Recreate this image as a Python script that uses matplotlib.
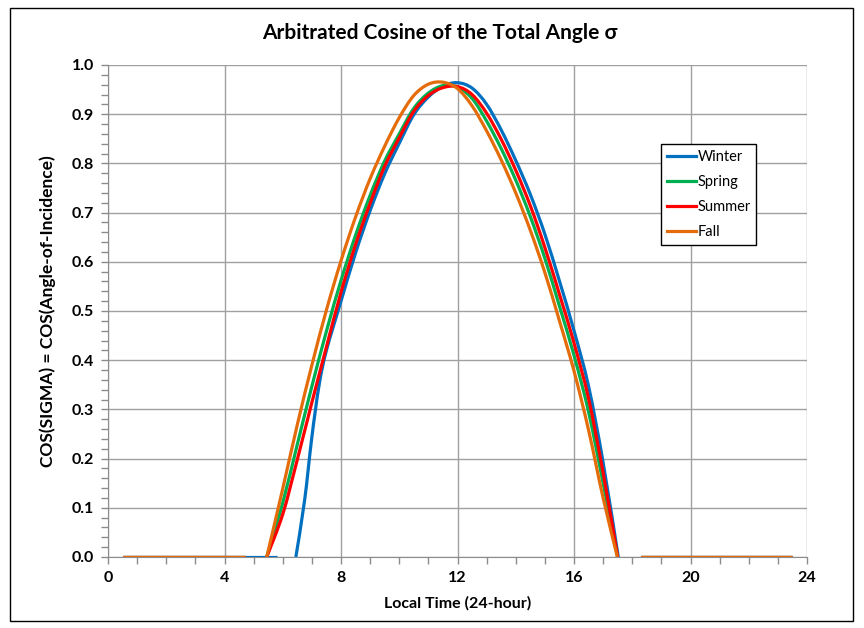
import numpy as np
import matplotlib
matplotlib.use("Agg")
import matplotlib.pyplot as plt
from matplotlib.path import Path
from matplotlib.patches import PathPatch, Rectangle
from matplotlib.lines import Line2D
from matplotlib.ticker import MultipleLocator

plt.rcParams['font.family'] = ['Lato', 'DejaVu Sans']

# values (local hour, cos sigma) for the daylight part
winter_hours = [6.45, 6.75, 7.0, 7.25, 7.5, 8.0, 8.5, 9.0, 9.5, 10.0, 10.5, 11.0, 11.5, 12.0,
                12.5, 13.0, 13.5, 14.0, 14.5, 15.0, 15.5, 16.0, 16.5, 17.0, 17.52]
winter_vals = [0.0, 0.115, 0.244, 0.35, 0.42, 0.52, 0.618, 0.704, 0.779, 0.841, 0.899, 0.935, 0.957, 0.964,
               0.953, 0.92, 0.868, 0.806, 0.737, 0.656, 0.561, 0.46, 0.347, 0.192, 0.0]

spring_hours = [5.45, 6.0, 6.5, 7.0, 7.5, 8.0, 8.5, 9.0, 9.5, 10.0, 10.5, 11.0, 11.5, 12.0,
                12.5, 13.0, 13.5, 14.0, 14.5, 15.0, 15.5, 16.0, 16.5, 17.0, 17.5]
spring_vals = [0.0, 0.11, 0.229, 0.347, 0.459, 0.562, 0.654, 0.735, 0.805, 0.86, 0.912, 0.943, 0.958, 0.955,
               0.932, 0.886, 0.83, 0.766, 0.692, 0.607, 0.51, 0.41, 0.295, 0.15, 0.0]

summer_hours = [5.45, 6.0, 6.5, 7.0, 7.5, 8.0, 8.5, 9.0, 9.5, 10.0, 10.5, 11.0, 11.5, 12.0,
                12.5, 13.0, 13.5, 14.0, 14.5, 15.0, 15.5, 16.0, 16.5, 17.0, 17.5]
summer_vals = [0.0, 0.087, 0.198, 0.314, 0.427, 0.538, 0.635, 0.719, 0.794, 0.852, 0.906, 0.938, 0.954, 0.956,
               0.94, 0.902, 0.849, 0.786, 0.714, 0.629, 0.534, 0.435, 0.322, 0.171, 0.0]

fall_hours = [5.45, 6.0, 6.5, 7.0, 7.5, 8.0, 8.5, 9.0, 9.5, 10.0, 10.5, 11.0, 11.5, 12.0,
              12.5, 13.0, 13.5, 14.0, 14.5, 15.0, 15.5, 16.0, 16.5, 17.0, 17.49]
fall_vals = [0.0, 0.139, 0.269, 0.39, 0.502, 0.602, 0.691, 0.769, 0.835, 0.893, 0.938, 0.961, 0.965, 0.952,
             0.917, 0.866, 0.807, 0.74, 0.664, 0.578, 0.48, 0.378, 0.258, 0.12, 0.0]

# night-time zero stretches
night_am = {"Winter": [0.5, 5.8], "Spring": [0.5, 4.7], "Summer": [0.5, 4.7], "Fall": [0.5, 4.7]}
night_pm = [18.3, 23.5]

seasons = ["Winter", "Spring", "Summer", "Fall"]
colors = {"Winter": "#0070C0", "Spring": "#00B050", "Summer": "#FF0000", "Fall": "#E46C0A"}
day = {"Winter": (winter_hours, winter_vals), "Spring": (spring_hours, spring_vals),
       "Summer": (summer_hours, summer_vals), "Fall": (fall_hours, fall_vals)}


def smooth_path(xs, ys):
    # Excel-like smoothed line: Catmull-Rom converted to cubic Bezier segments
    pts = np.column_stack([xs, ys]).astype(float)
    n = len(pts)
    verts = [pts[0]]
    codes = [Path.MOVETO]
    for i in range(n - 1):
        p0 = pts[max(i - 1, 0)]
        p1, p2 = pts[i], pts[i + 1]
        p3 = pts[min(i + 2, n - 1)]
        verts += [p1 + (p2 - p0) / 6, p2 - (p3 - p1) / 6, p2]
        codes += [Path.CURVE4] * 3
    return Path(verts, codes)


fig = plt.figure(figsize=(8.64, 6.28), dpi=100)
fig.patch.set_facecolor("white")
fig.add_artist(Rectangle((10 / 864, 7 / 628), 843 / 864, 613 / 628, transform=fig.transFigure,
                         fill=False, edgecolor="black", linewidth=1.0))

ax = fig.add_axes([108 / 864, 1 - 557 / 628, 699 / 864, 492 / 628])

lw = 2.3
for s in seasons:
    c = colors[s]
    ax.plot(night_am[s], [0, 0], color=c, lw=lw, solid_capstyle="butt", zorder=3)
    ax.plot(night_pm, [0, 0], color=c, lw=lw, solid_capstyle="butt", zorder=3)
    hx, hy = day[s]
    ax.add_patch(PathPatch(smooth_path(hx, hy), fill=False, edgecolor=c, lw=lw, zorder=3))

ax.set_xlim(0, 24)
ax.set_ylim(0, 1.0)
ax.xaxis.set_major_locator(MultipleLocator(4))
ax.xaxis.set_minor_locator(MultipleLocator(1))
ax.yaxis.set_major_locator(MultipleLocator(0.1))
ax.yaxis.set_minor_locator(MultipleLocator(0.02))
ax.set_yticklabels([f"{v:.1f}" for v in ax.get_yticks()])
ax.grid(True, which="major", color="#A0A0A0", lw=1.0, zorder=0)
ax.set_axisbelow(True)
for sp in ["top", "right"]:
    ax.spines[sp].set_visible(False)
for sp in ["left", "bottom"]:
    ax.spines[sp].set_color("#8C8C8C")
ax.tick_params(which="both", direction="out", color="#8C8C8C", length=5, width=1)
ax.tick_params(which="major", labelsize=11.5, pad=5)
for lab in ax.get_xticklabels() + ax.get_yticklabels():
    lab.set_fontweight("bold")

ax.set_xlabel("Local Time (24-hour)", fontsize=11.5, fontweight="bold", labelpad=8)
ax.set_ylabel("COS(SIGMA) = COS(Angle-of-Incidence)", fontsize=12.5, fontweight="bold", labelpad=11)
fig.text(0.5 * (262 + 617) / 864, 1 - 33 / 628, "Arbitrated Cosine of the Total Angle σ",
         ha="center", va="center", fontsize=15, fontweight="bold")

handles = [Line2D([], [], color=colors[s], lw=lw) for s in seasons]
leg = ax.legend(handles, seasons, loc="upper left", bbox_to_anchor=(0.791, 0.839),
                borderaxespad=0, fancybox=False, edgecolor="black", framealpha=1,
                fontsize=10.5, handlelength=2.0, handletextpad=0.1, labelspacing=0.75,
                borderpad=0.4)
leg.get_frame().set_linewidth(1.0)

fig.savefig("out.png", dpi=100)
